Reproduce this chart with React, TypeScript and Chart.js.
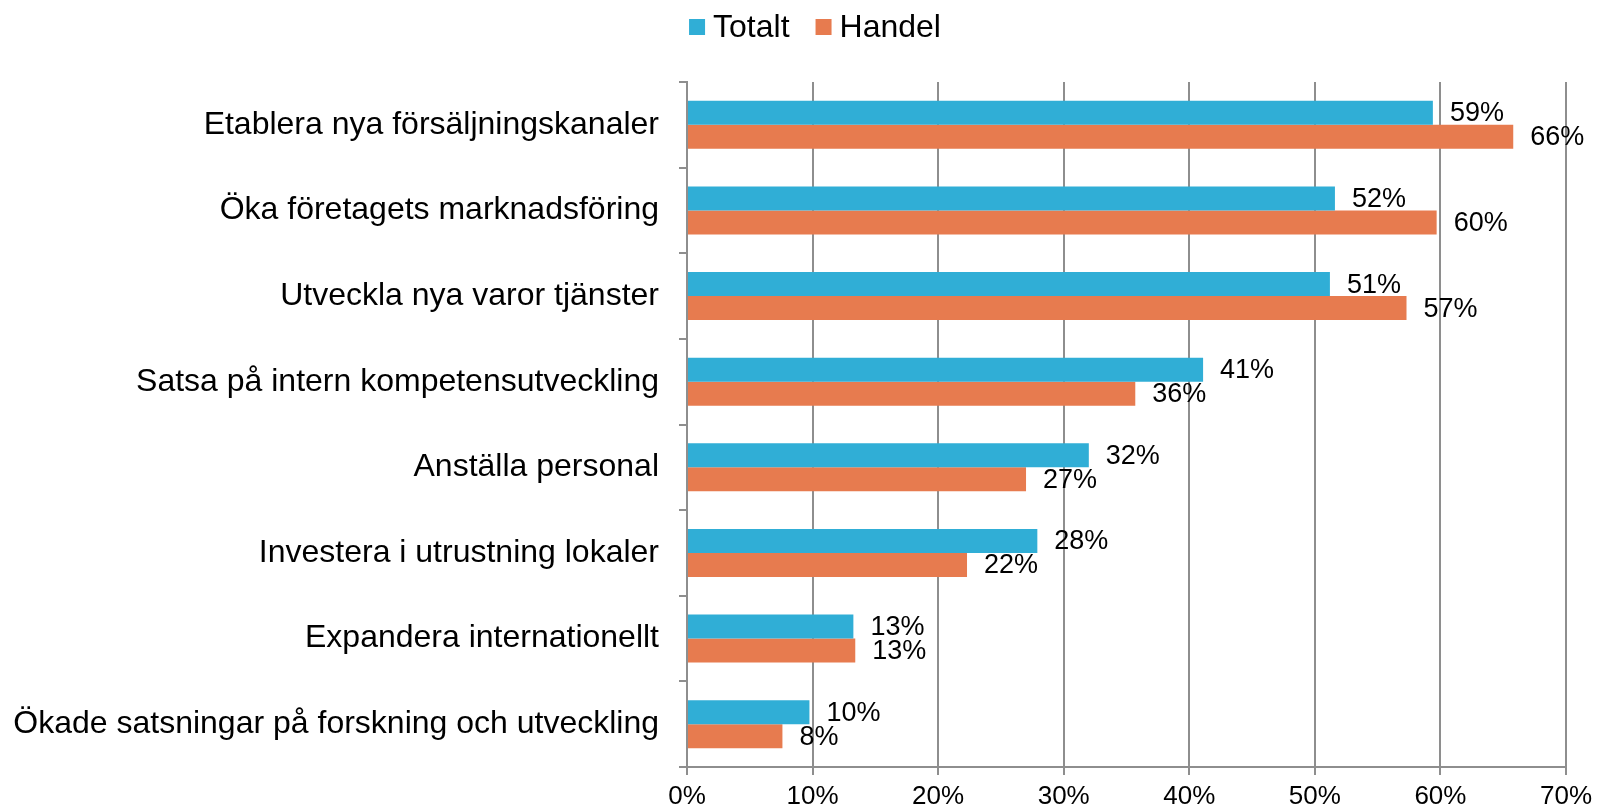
import React, { useEffect, useRef } from "react";
import { Chart, registerables } from "chart.js";

Chart.register(...registerables);

const categories = [
  "Etablera nya försäljningskanaler",
  "Öka företagets marknadsföring",
  "Utveckla nya varor tjänster",
  "Satsa på intern kompetensutveckling",
  "Anställa personal",
  "Investera i utrustning lokaler",
  "Expandera internationellt",
  "Ökade satsningar på forskning och utveckling",
];
const seriesNames = ["Totalt", "Handel"];
const totaltValues = [59.4, 51.6, 51.2, 41.1, 32.0, 27.9, 13.25, 9.75];
const handelValues = [65.8, 59.7, 57.3, 35.7, 27.0, 22.3, 13.4, 7.6];
const xTicks = [0, 10, 20, 30, 40, 50, 60, 70];

const FONT = "'Liberation Sans', Arial, Helvetica, sans-serif";
const BLUE = "#30AED6";
const ORANGE = "#E77B4F";
const GRID = "#8E8E8E";

const dataLabelPlugin = {
  id: "dataLabels",
  afterDatasetsDraw(chart: any) {
    const ctx = chart.ctx;
    ctx.save();
    ctx.font = `27px ${FONT}`;
    ctx.fillStyle = "#000";
    ctx.textAlign = "left";
    ctx.textBaseline = "middle";
    chart.data.datasets.forEach((ds: any, di: number) => {
      const meta = chart.getDatasetMeta(di);
      meta.data.forEach((bar: any, i: number) => {
        const v = ds.data[i];
        ctx.fillText(`${Math.round(v)}%`, bar.x + 17, bar.y + 1);
      });
    });
    ctx.restore();
  },
};

const legendPlugin = {
  id: "customLegend",
  afterDraw(chart: any) {
    const ctx = chart.ctx;
    ctx.save();
    ctx.font = `32px ${FONT}`;
    ctx.textBaseline = "middle";
    ctx.textAlign = "left";
    const box = 16;
    const gap = 8;
    const spacing = 26;
    const items = chart.data.datasets.map((ds: any) => ({
      text: ds.label,
      color: ds.backgroundColor,
      w: ctx.measureText(ds.label).width,
    }));
    const total =
      items.reduce((s: number, it: any) => s + box + gap + it.w, 0) +
      spacing * (items.length - 1);
    let x = 815 - total / 2;
    const cy = 27;
    items.forEach((it: any) => {
      ctx.fillStyle = it.color;
      ctx.fillRect(x, cy - box / 2, box, box);
      ctx.fillStyle = "#000";
      ctx.fillText(it.text, x + box + gap, cy + 1);
      x += box + gap + it.w + spacing;
    });
    ctx.restore();
  },
};

export default function App() {
  const ref = useRef<HTMLCanvasElement | null>(null);
  useEffect(() => {
    if (!ref.current) return;
    const chart = new Chart(ref.current, {
      type: "bar",
      data: {
        labels: categories,
        datasets: [
          {
            label: seriesNames[0],
            data: totaltValues,
            backgroundColor: BLUE,
            categoryPercentage: 0.56,
            barPercentage: 1,
          },
          {
            label: seriesNames[1],
            data: handelValues,
            backgroundColor: ORANGE,
            categoryPercentage: 0.56,
            barPercentage: 1,
          },
        ],
      },
      plugins: [dataLabelPlugin, legendPlugin],
      options: {
        indexAxis: "y",
        responsive: false,
        animation: false,
        layout: { padding: { top: 82, right: 27, left: 0, bottom: 0 } },
        plugins: {
          legend: { display: false },
          tooltip: { enabled: false },
        },
        scales: {
          x: {
            min: 0,
            max: 70,
            afterBuildTicks: (scale: any) => {
              scale.ticks = xTicks.map((v) => ({ value: v }));
            },
            afterFit: (scale: any) => {
              scale.height = 40;
            },
            ticks: {
              callback: (v: any) => `${v}%`,
              color: "#000",
              font: { family: FONT, size: 26 },
              padding: 6,
              maxRotation: 0,
            },
            grid: {
              color: GRID,
              lineWidth: 2,
              tickLength: 8,
              drawTicks: true,
            },
            border: { color: GRID, width: 2 },
          },
          y: {
            afterFit: (scale: any) => {
              scale.width = 687;
              scale.paddingTop = 0;
              scale.paddingBottom = 0;
            },
            ticks: {
              color: "#000",
              font: { family: FONT, size: 32 },
              padding: 20,
            },
            grid: {
              drawOnChartArea: false,
              color: GRID,
              lineWidth: 2,
              tickLength: 8,
              offset: true,
            },
            border: { color: GRID, width: 2 },
          },
        },
      },
    });
    return () => chart.destroy();
  }, []);
  return (
    <div style={{ position: "fixed", left: 0, top: 0, width: 1598, height: 807, background: "#fff" }}>
      <canvas ref={ref} width={1598} height={807} />
    </div>
  );
}
